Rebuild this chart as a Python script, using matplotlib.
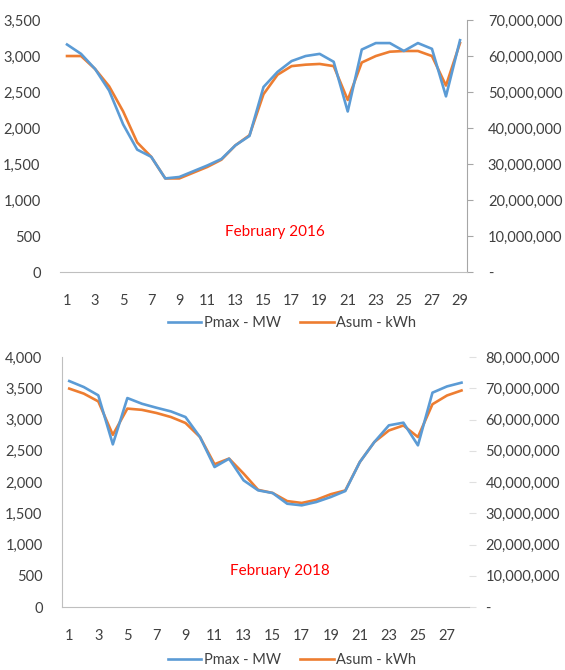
import matplotlib.pyplot as plt
from matplotlib.ticker import FuncFormatter, MultipleLocator

plt.rcParams['font.family'] = ['Lato', 'DejaVu Sans']

days_2016 = list(range(1, 30))
pmax_2016 = [3160, 3030, 2820, 2520, 2050, 1700, 1600, 1300, 1320, 1400,
             1480, 1570, 1760, 1890, 2570, 2780, 2930, 3000, 3030, 2920,
             2230, 3090, 3180, 3180, 3070, 3180, 3100, 2440, 3220]
asum_2016 = [60000000, 60000000, 56400000, 51600000, 44600000, 36000000, 32000000, 26000000, 26000000, 27600000,
             29200000, 31200000, 35200000, 38000000, 49400000, 54800000, 57200000, 57600000, 57800000, 57200000,
             47800000, 58200000, 60000000, 61200000, 61400000, 61400000, 60000000, 51800000, 63600000]

days_2018 = list(range(1, 29))
pmax_2018 = [3616, 3520, 3387, 2603, 3344, 3253, 3189, 3130, 3040, 2720,
             2240, 2373, 2027, 1867, 1824, 1653, 1627, 1680, 1760, 1856,
             2320, 2640, 2907, 2950, 2587, 3430, 3530, 3590]
asum_2018 = [69900000, 68300000, 65800000, 55100000, 63500000, 63100000, 62100000, 60800000, 58900000, 54400000,
             45700000, 47500000, 42700000, 37500000, 36500000, 33900000, 33300000, 34300000, 36100000, 37300000,
             46400000, 52800000, 56500000, 58100000, 54400000, 64900000, 67700000, 69300000]

titles = ['February 2016', 'February 2018']

BLUE = '#5B9BD5'
ORANGE = '#ED7D31'
GRID = '#BFBFBF'
TXT = '#404040'


def left_fmt(v, pos):
    return '{:,.0f}'.format(v)


def right_fmt(v, pos):
    if v == 0:
        return '-'
    return '{:,.0f}'.format(v)


fig = plt.figure(figsize=(5.65, 6.70), dpi=100)

panels = [
    (days_2016, pmax_2016, asum_2016, 3500, 70000000, [0.1062, 0.594, 0.7204, 0.3761], titles[0], (275, 232), 323),
    (days_2018, pmax_2018, asum_2018, 4000, 80000000, [0.1097, 0.094, 0.7200, 0.3731], titles[1], (280, 571), 660),
]

for i, (days, pmax, asum, lmax, rmax, rect, title, tpos, legy) in enumerate(panels):
    ax = fig.add_axes(rect)
    ax2 = ax.twinx()
    l1, = ax.plot(days, pmax, color=BLUE, lw=1.9, label='Pmax - MW')
    l2, = ax2.plot(days, asum, color=ORANGE, lw=1.9, label='Asum - kWh')
    ax.set_zorder(ax2.get_zorder() + 1)
    ax.patch.set_visible(False)

    ax.set_xlim(0.5, len(days) + 0.5)
    ax.set_ylim(0, lmax)
    ax2.set_ylim(0, rmax)
    ax.set_xticks(days[::2])
    ax.yaxis.set_major_locator(MultipleLocator(500))
    ax2.yaxis.set_major_locator(MultipleLocator(10000000))
    ax.yaxis.set_major_formatter(FuncFormatter(left_fmt))
    ax2.yaxis.set_major_formatter(FuncFormatter(right_fmt))

    for a in (ax, ax2):
        for s in a.spines.values():
            s.set_visible(False)
        a.tick_params(labelsize=10.5, colors=TXT)
    ax.spines['bottom'].set_visible(True)
    ax.spines['bottom'].set_color(GRID)
    ax.tick_params(axis='x', length=0, pad=16)
    ax.tick_params(axis='y', length=0, pad=14)

    if i == 0:
        ax2.spines['right'].set_visible(True)
        ax2.spines['right'].set_color('#A6A6A6')
        ax2.tick_params(axis='y', length=4, color='#A6A6A6', pad=11)
    else:
        ax.spines['left'].set_visible(True)
        ax.spines['left'].set_color(GRID)
        ax2.tick_params(axis='y', length=5, color='#E0E0E0', pad=7)

    fig.text(tpos[0] / 565, 1 - tpos[1] / 670, title, color='#FF0000',
             fontsize=11, ha='center', va='center')
    fig.legend([l1, l2], ['Pmax - MW', 'Asum - kWh'], loc='center',
               bbox_to_anchor=(292 / 565, 1 - legy / 670), ncol=2, frameon=False,
               fontsize=10.5, handlelength=2.3, handletextpad=0.2, columnspacing=1.3,
               labelcolor=TXT)

fig.savefig('out.png', dpi=100)
